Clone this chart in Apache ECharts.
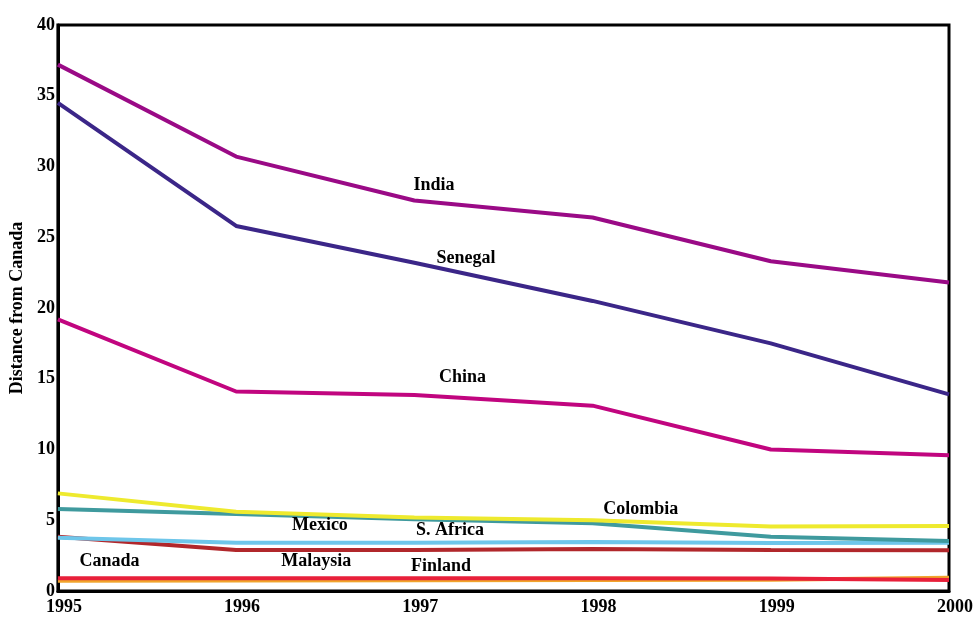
<!DOCTYPE html>
<html>
<head>
<meta charset="utf-8">
<script src="https://cdn.jsdelivr.net/npm/echarts@6/dist/echarts.min.js"></script>
<style>
  html, body { margin: 0; padding: 0; background: #fff; }
  #chart { width: 976px; height: 617px; }
</style>
</head>
<body>
<div id="chart"></div>
<script>
// Distance from Canada, 1995-2000
const years = [1995, 1996, 1997, 1998, 1999, 2000];

const india    = [37.2, 30.7, 27.6, 26.4, 23.3, 21.8];
const senegal  = [34.5, 25.8, 23.2, 20.5, 17.5, 13.9];
const china    = [19.2, 14.1, 13.85, 13.1, 10.0, 9.6];
const colombia = [6.9, 5.6, 5.2, 5.0, 4.55, 4.6];
const sAfrica  = [5.8, 5.44, 5.07, 4.78, 3.84, 3.53];
const mexico   = [3.77, 3.41, 3.41, 3.46, 3.39, 3.41];
const malaysia = [3.84, 2.9, 2.9, 2.97, 2.9, 2.88];
const canada   = [0.9, 0.9, 0.9, 0.9, 0.88, 0.78];
const finland  = [0.73, 0.75, 0.76, 0.78, 0.8, 0.94];

const yTicks = [0, 5, 10, 15, 20, 25, 30, 35, 40];

// Series names, colours and in-plot label anchors (year, value)
const seriesDefs = [
  { name: 'Finland',   data: finland,  color: '#f0a42c', label: [1997.15, 1.77] },
  { name: 'Canada',    data: canada,   color: '#e8203a', label: [1995.29, 2.12] },
  { name: 'Malaysia',  data: malaysia, color: '#b1272b', label: [1996.45, 2.12] },
  { name: 'Mexico',    data: mexico,   color: '#6ec6ea', label: [1996.47, 4.66] },
  { name: 'S. Africa', data: sAfrica,  color: '#3f9a9e', label: [1997.20, 4.31] },
  { name: 'Colombia',  data: colombia, color: '#eeea2e', label: [1998.27, 5.80] },
  { name: 'China',     data: china,    color: '#c1057f', label: [1997.27, 15.1] },
  { name: 'Senegal',   data: senegal,  color: '#3b2688', label: [1997.29, 23.5] },
  { name: 'India',     data: india,    color: '#9a0a86', label: [1997.11, 28.7] }
];

const FONT = '"Liberation Serif", "Times New Roman", serif';

const chart = echarts.init(document.getElementById('chart'), null, { renderer: 'canvas' });

const option = {
  animation: false,
  backgroundColor: '#fff',
  grid: {
    left: 56, right: 25, top: 25, bottom: 26,
    show: true, borderColor: '#000', borderWidth: 3, backgroundColor: 'transparent'
  },
  xAxis: {
    type: 'value',
    min: 1995, max: 2000, interval: 1,
    axisLine: { show: true, lineStyle: { color: '#000', width: 3 } },
    axisTick: { show: false },
    splitLine: { show: false },
    axisLabel: {
      margin: 7,
      padding: [0, 0, 0, 12],
      color: '#000', fontFamily: FONT, fontWeight: 'bold', fontSize: 18,
      formatter: v => String(v)
    }
  },
  yAxis: {
    type: 'value',
    min: yTicks[0], max: yTicks[yTicks.length - 1], interval: 5,
    name: 'Distance from Canada',
    nameLocation: 'middle',
    nameGap: 27,
    nameTextStyle: { color: '#000', fontFamily: FONT, fontWeight: 'bold', fontSize: 18 },
    axisLine: { show: true, lineStyle: { color: '#000', width: 3 } },
    axisTick: { show: false },
    splitLine: { show: false },
    axisLabel: {
      margin: 3,
      color: '#000', fontFamily: FONT, fontWeight: 'bold', fontSize: 18
    }
  },
  series: seriesDefs.map(s => ({
    name: s.name,
    type: 'line',
    data: years.map((y, i) => [y, s.data[i]]),
    showSymbol: false,
    symbol: 'none',
    lineStyle: { color: s.color, width: 4 },
    z: 2
  }))
};

chart.setOption(option);

// Country labels placed in data space
chart.setOption({
  graphic: seriesDefs.map(s => {
    const p = chart.convertToPixel({ gridIndex: 0 }, s.label);
    return {
      type: 'text',
      x: p[0], y: p[1],
      z: 10,
      style: {
        text: s.name,
        fill: '#000',
        font: 'bold 18px ' + FONT,
        align: 'center',
        verticalAlign: 'middle'
      }
    };
  })
});
</script>
</body>
</html>
